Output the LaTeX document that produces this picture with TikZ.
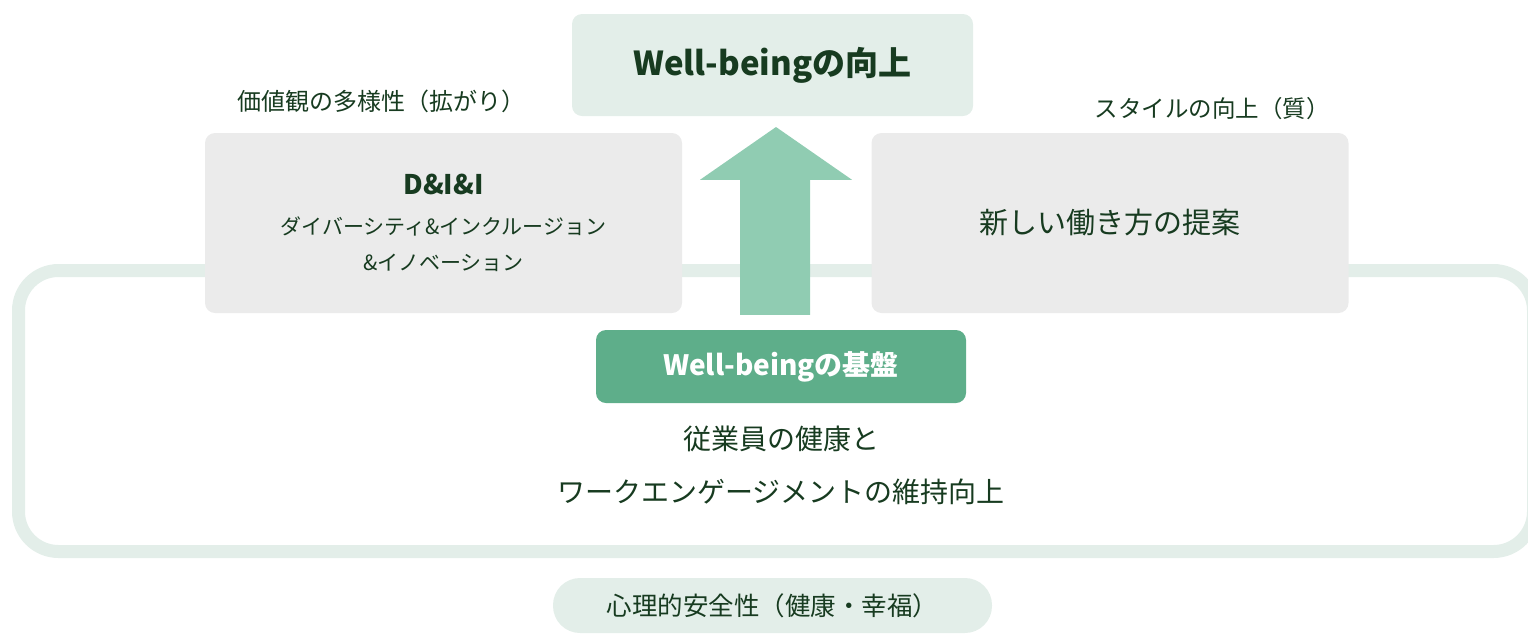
\documentclass[tikz,border=0pt]{standalone}
\usepackage{fontspec}
\setmainfont{Noto Sans CJK JP}
\usepackage{xcolor}
\usetikzlibrary{positioning,calc}
\definecolor{paleg}{HTML}{E3EEE9}
\definecolor{boxg}{HTML}{EBEBEB}
\definecolor{arrg}{HTML}{90CCB2}
\definecolor{baseg}{HTML}{5EAE8A}
\definecolor{inkg}{HTML}{173B20}

\begin{document}
\begin{tikzpicture}[x=1pt, y=-1pt,
  box/.style={rounded corners=10pt, align=center, inner sep=0pt,
              text=inkg},
  greybox/.style={box, fill=boxg, minimum width=477pt, minimum height=180pt},
  lab/.style={text=inkg, inner sep=0pt, font=\fontsize{24}{28}\selectfont},
  frame/.style={draw=paleg, line width=13pt, rounded corners=40pt,
                minimum width=1515pt, minimum height=281pt}]
\useasboundingbox (0,0) rectangle (1528,633);
\node[frame] (frame) at (776,411) {};
\node[box, fill=paleg, minimum width=401pt, minimum height=102pt,
      font=\bfseries\fontsize{33}{38}\selectfont] (top) at (772.5,65)
  {Well-beingの向上};
\node[greybox, font=\fontsize{21}{36}\selectfont] (dii) at (443.5,223)
  {{\bfseries\fontsize{27}{36}\selectfont D\&I\&I}\\[4pt]
   ダイバーシティ\&インクルージョン\\
   \&イノベーション};
\node[greybox, font=\fontsize{29}{34}\selectfont] (work) at (1110,223)
  {新しい働き方の提案};
\node[lab] (divers) at (381,101) {価値観の多様性（拡がり）};
\node[lab, font=\fontsize{23.5}{28}\selectfont] (style) at (1212,109)
  {スタイルの向上（質）};
\node[box, fill=baseg, text=white, minimum width=370pt,
      minimum height=73pt, font=\bfseries\fontsize{28}{32}\selectfont]
  (base) at (781,366.5) {Well-beingの基盤};
\node[box, font=\fontsize{28}{53}\selectfont, below=23pt of base]
  (health) {従業員の健康と\\ワークエンゲージメントの維持向上};
\node[box, fill=paleg, rounded corners=27pt, minimum width=439pt,
      minimum height=55pt, font=\fontsize{25.5}{30}\selectfont]
  (safe) at (772.5,605.5) {心理的安全性（健康・幸福）};
% block arrow from the base up to the top box
\fill[arrg] ($(base.north)+(-41,-15)$) -- ++(0,-135) -- ++(-40,0)
  -- (776,127) -- ($(base.north)+(71,-150)$) -- ++(-42,0)
  -- ++(0,135) -- cycle;
\end{tikzpicture}
\end{document}
